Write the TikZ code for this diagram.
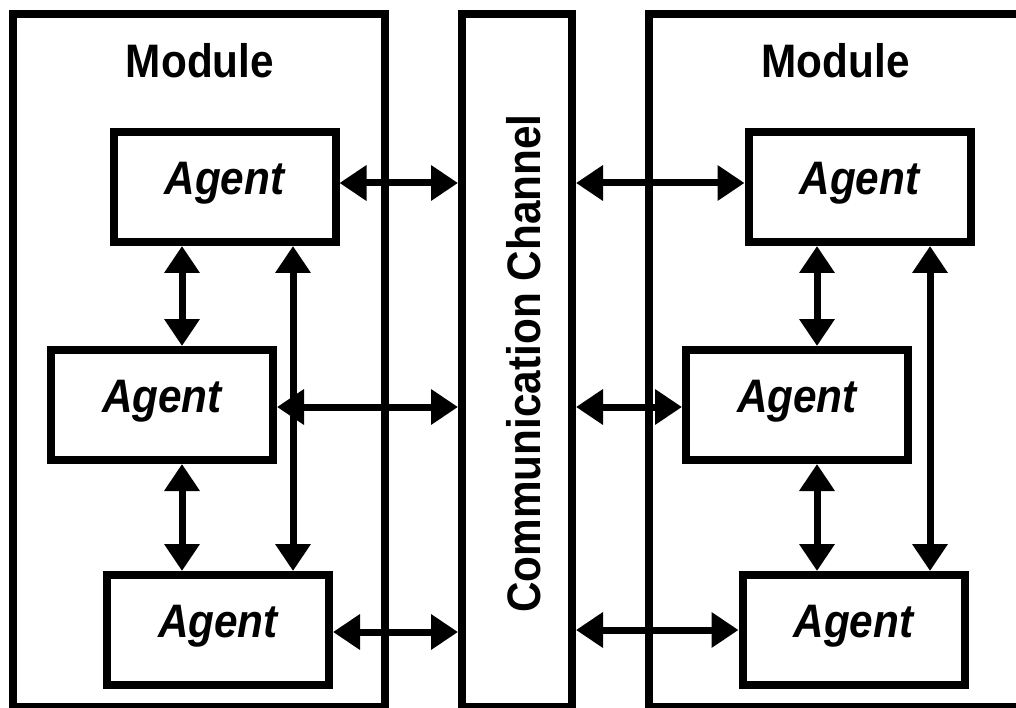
\documentclass[tikz,border=0pt]{standalone}
\usepackage{fontspec}
\usepackage{graphicx}
\setmainfont{Liberation Sans}
\usetikzlibrary{arrows.meta}
% slightly condensed lettering
\newcommand\narrowtxt[1]{\scalebox{0.9}[1]{#1}}
\begin{document}
\begin{tikzpicture}[x=1pt,y=-1pt,
  frame/.style={draw, line width=8pt, inner sep=0pt},
  agent/.style={frame, minimum width=222pt, minimum height=110pt,
    text height=30pt, text depth=15pt,
    font=\fontsize{47}{50}\selectfont\bfseries\itshape},
  biarrow/.style={line width=7pt,
    {Triangle[length=27pt,width=34pt]}-{Triangle[length=27pt,width=34pt]}},
  title/.style={font=\fontsize{47}{50}\selectfont\bfseries, anchor=base, inner sep=0pt}]
\useasboundingbox (0,0) rectangle (1016,708);

% modules and the channel between them
\node[frame, minimum width=372pt, minimum height=693pt] (lm) at (199,360.5) {};
\node[frame, minimum width=110pt, minimum height=693pt] (ch) at (517,360.5) {};
\node[frame, minimum width=451pt, minimum height=693pt] (rm) at (874.5,360.5) {};

\node[title] (lt) at (200,78) {\narrowtxt{Module}};
\node[title] (rt) at (835.5,78) {\narrowtxt{Module}};
\node[title, rotate=90] (cl) at (540,363.5) {\narrowtxt{Communication Channel}};

% agents
\node[agent] (a1) at (224.5,187) {\narrowtxt{Agent}};
\node[agent] (a2) at (162,405) {\narrowtxt{Agent}};
\node[agent] (a3) at (218,630) {\narrowtxt{Agent}};
\node[agent] (b1) at (859.5,187) {\narrowtxt{Agent}};
\node[agent] (b2) at (797,405) {\narrowtxt{Agent}};
\node[agent] (b3) at (853.5,630) {\narrowtxt{Agent}};

% columns of the vertical links
\coordinate (xl1) at (182,0);
\coordinate (xl2) at (293,0);
\coordinate (xr1) at (817,0);
\coordinate (xr2) at (930,0);

% links inside the left module
\draw[biarrow] (a1.south -| xl1) -- (a2.north -| xl1);
\draw[biarrow] (a2.south -| xl1) -- (a3.north -| xl1);
\draw[biarrow] (a1.south -| xl2) -- (a3.north -| xl2);

% links inside the right module
\draw[biarrow] (b1.south -| xr1) -- (b2.north -| xr1);
\draw[biarrow] (b2.south -| xr1) -- (b3.north -| xr1);
\draw[biarrow] (b1.south -| xr2) -- (b3.north -| xr2);

% links to the channel
\draw[biarrow] ([yshift=4pt]a1.east) -- ([yshift=4pt]a1.east -| ch.west);
\draw[biarrow] ([yshift=-2pt]a2.east) -- ([yshift=-2pt]a2.east -| ch.west);
\draw[biarrow] ([yshift=-2pt]a3.east) -- ([yshift=-2pt]a3.east -| ch.west);
\draw[biarrow] ([yshift=4pt]b1.west -| ch.east) -- ([yshift=4pt]b1.west);
\draw[biarrow] ([yshift=-2pt]b2.west -| ch.east) -- ([yshift=-2pt]b2.west);
\draw[biarrow] (b3.west -| ch.east) -- (b3.west);
\end{tikzpicture}
\end{document}
